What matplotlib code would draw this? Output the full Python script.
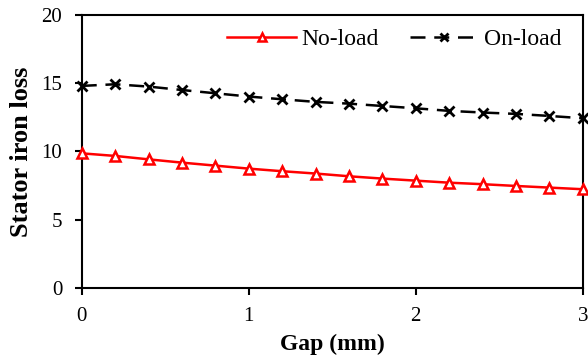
import matplotlib
matplotlib.use("Agg")
import matplotlib.pyplot as plt

gap = [0.0, 0.2, 0.4, 0.6, 0.8, 1.0, 1.2, 1.4, 1.6, 1.8, 2.0, 2.2, 2.4, 2.6, 2.8, 3.0]
no_load = [9.86, 9.67, 9.42, 9.18, 8.96, 8.74, 8.55, 8.38, 8.18, 8.01, 7.86, 7.71, 7.60, 7.47, 7.35, 7.23]
on_load = [14.80, 14.92, 14.75, 14.50, 14.26, 14.02, 13.82, 13.63, 13.50, 13.33, 13.16, 12.97, 12.85, 12.75, 12.60, 12.43]
xticks = [0, 1, 2, 3]
yticks = [0, 5, 10, 15, 20]

plt.rcParams['font.family'] = ['Liberation Serif', 'DejaVu Serif']

fig = plt.figure(figsize=(5.88, 3.64), dpi=100)
ax = fig.add_axes([0.139, 0.209, 0.852, 0.75])

ax.plot(gap, no_load, color='red', lw=1.8, marker='^', markersize=7,
        markerfacecolor='white', markeredgecolor='red', markeredgewidth=1.8,
        label='No-load', clip_on=False, zorder=3)
ax.plot(gap, on_load, color='black', lw=1.8, ls=(0, (6, 3.5)), marker='x', markersize=7.5,
        markeredgewidth=2, label='On-load', clip_on=False, zorder=3)

ax.set_xlim(0, 3)
ax.set_ylim(0, 20)
ax.set_xticks(xticks)
ax.set_yticks(yticks)
ax.tick_params(direction='out', length=5, width=1.5, labelsize=15, pad=9)
for s in ax.spines.values():
    s.set_linewidth(1.5)

ax.set_xlabel('Gap (mm)', fontsize=17, fontweight='bold', labelpad=5)
ax.set_ylabel('Stator iron loss', fontsize=19, fontweight='bold', labelpad=6)

ax.legend(loc='center right', bbox_to_anchor=(0.958, 0.91), ncol=2, frameon=False,
          fontsize=17, handlelength=2.9, columnspacing=1.3, handletextpad=0.25,
          borderaxespad=0, borderpad=0, markerscale=0.75)

fig.savefig('out.png', dpi=100)
